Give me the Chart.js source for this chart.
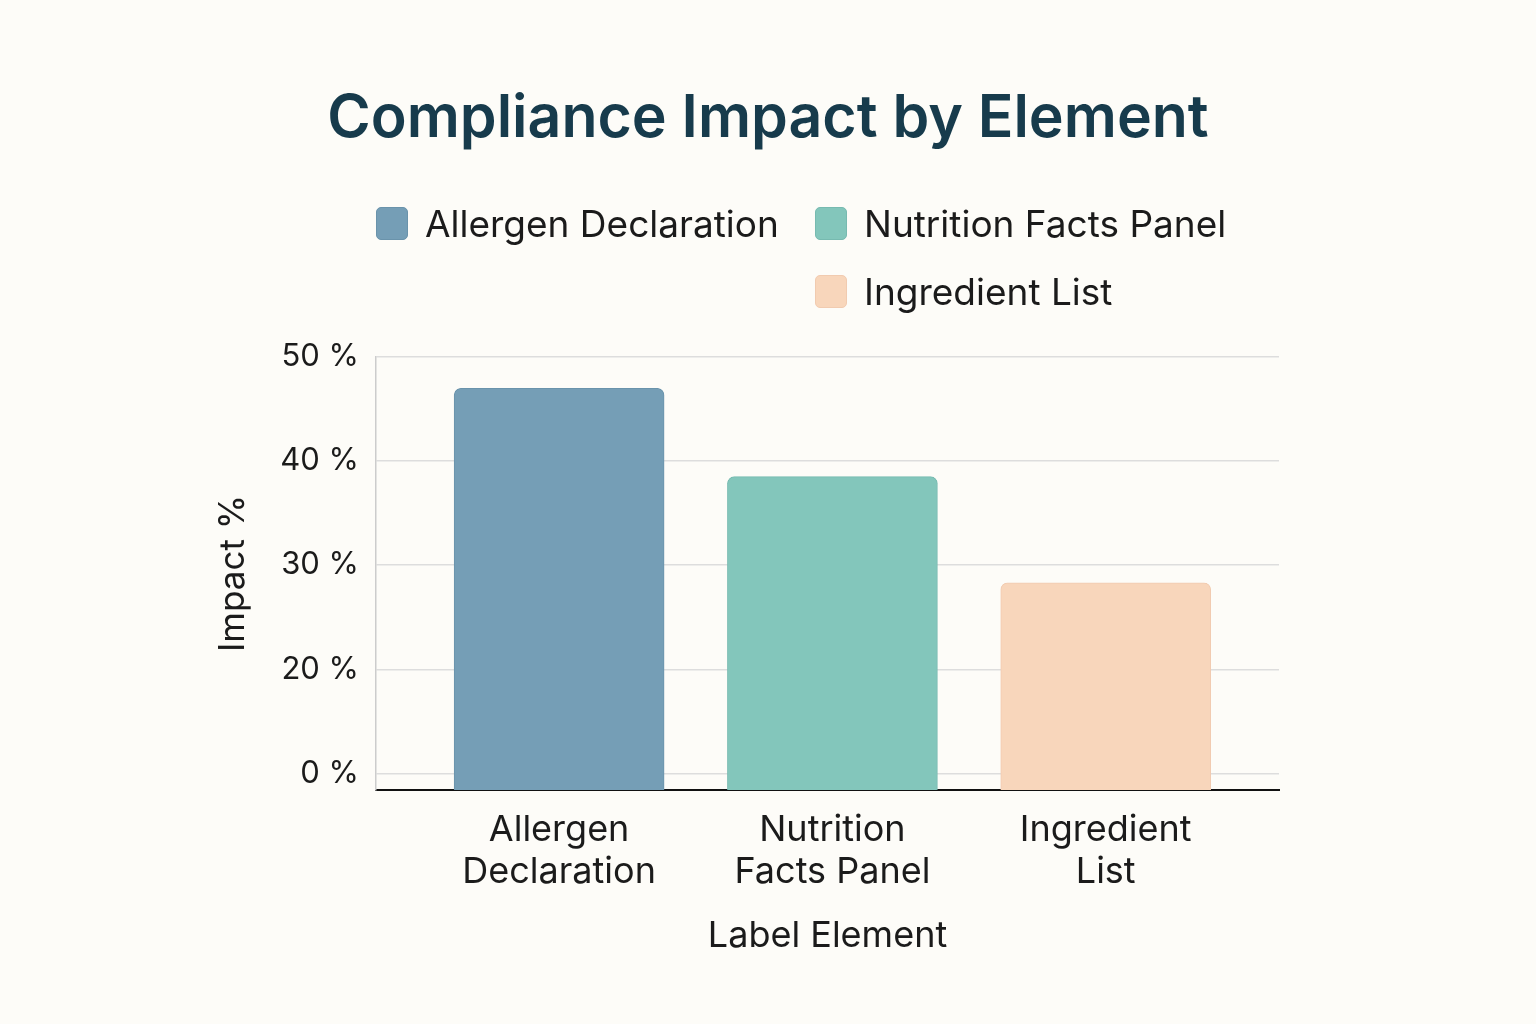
<!DOCTYPE html>
<html>
<head>
<meta charset="utf-8">
<script src="https://cdn.jsdelivr.net/npm/chart.js@4.4.1/dist/chart.umd.min.js"></script>
<style>
  html, body { margin: 0; padding: 0; background: #fdfcf8; }
  #wrap { position: relative; width: 1536px; height: 1024px; }
  #chart { position: absolute; left: 0; top: 0; }
  #title {
    position: absolute; left: 0; width: 1536px; top: 78px; text-align: center;
    font-family: Inter, "Noto Sans", sans-serif; font-size: 59px; font-weight: 600;
    color: #173b4c; line-height: 76px;
  }
  #legend {
    position: absolute; left: 376px; top: 200px;
    display: grid; grid-template-columns: 439px auto; row-gap: 22px;
    font-family: Inter, "Noto Sans", sans-serif; font-size: 37px; color: #1b1b1b;
  }
  .item { display: flex; align-items: center; height: 46px; }
  .box { width: 32px; height: 33px; border-radius: 5px; margin-right: 17px; box-sizing: border-box; }
</style>
</head>
<body>
<div id="wrap">
  <canvas id="chart" width="1536" height="1024"></canvas>
  <div id="title">Compliance Impact by Element</div>
  <div id="legend"></div>
</div>
<script>
const categories = ['Allergen Declaration', 'Nutrition Facts Panel', 'Ingredient List'];
const categoryLines = [['Allergen', 'Declaration'], ['Nutrition', 'Facts Panel'], ['Ingredient', 'List']];
const impactValues = [47, 38.5, 28.3];
const barColors = ['#759eb6', '#83c6bb', '#f8d6bb'];
const barBorders = ['#6a93ab', '#77bab0', '#f1cbb0'];

// the picture's y labels are evenly spaced: the lowest line is labelled "0 %"
const tickValues = [10, 20, 30, 40, 50];
const tickLabels = ['0 %', '20 %', '30 %', '40 %', '50 %'];

const FONT = 'Inter, "Noto Sans", sans-serif';

// legend, two columns like the reference
const legend = document.getElementById('legend');
legend.innerHTML = categories.map((name, i) => `
  <div class="item" style="${i === 2 ? 'grid-column: 2' : ''}">
    <span class="box" style="background:${barColors[i]};border:1px solid ${barBorders[i]}"></span>${name}
  </div>`).join('');

const ctx = document.getElementById('chart').getContext('2d');
new Chart(ctx, {
  type: 'bar',
  data: {
    datasets: [{
      data: impactValues.map((v, i) => ({ x: i, y: v })),
      backgroundColor: barColors,
      borderColor: barBorders,
      borderWidth: 1,
      borderRadius: 7,
      barThickness: 210
    }]
  },
  options: {
    responsive: false,
    animation: false,
    layout: { padding: { left: 190, right: 257, top: 357, bottom: 40 } },
    plugins: {
      legend: { display: false },
      tooltip: { enabled: false }
    },
    scales: {
      x: {
        type: 'linear',
        offset: false,
        min: -0.67,
        max: 2.634,
        afterBuildTicks: s => { s.ticks = categories.map((c, i) => ({ value: i })); },
        afterFit: s => { s.height = 1024 - 40 - 790; },
        grid: { display: false, drawTicks: false, offset: false },
        border: { display: true, color: '#111', width: 2 },
        ticks: {
          padding: 19,
          color: '#1b1b1b',
          font: { family: FONT, size: 36, lineHeight: 1.17 },
          maxRotation: 0,
          callback: v => categoryLines[v]
        },
        title: {
          display: true,
          text: 'Label Element',
          color: '#1b1b1b',
          font: { family: FONT, size: 36 },
          padding: { top: 0, bottom: 26 }
        }
      },
      y: {
        min: 8.4,
        max: 50,
        afterBuildTicks: s => { s.ticks = tickValues.map(v => ({ value: v })); },
        afterFit: s => { s.width = 376 - 190; },
        grid: { color: '#dddddd', lineWidth: 1.5, drawTicks: false },
        border: { display: true, color: '#cccccc', width: 1.5 },
        ticks: {
          padding: 17,
          color: '#1b1b1b',
          font: { family: FONT, size: 31 },
          callback: v => tickLabels[tickValues.indexOf(v)]
        },
        title: {
          display: true,
          text: 'Impact %',
          color: '#1b1b1b',
          font: { family: FONT, size: 35 },
          padding: { top: 22, bottom: 0 }
        }
      }
    }
  }
});
</script>
</body>
</html>
